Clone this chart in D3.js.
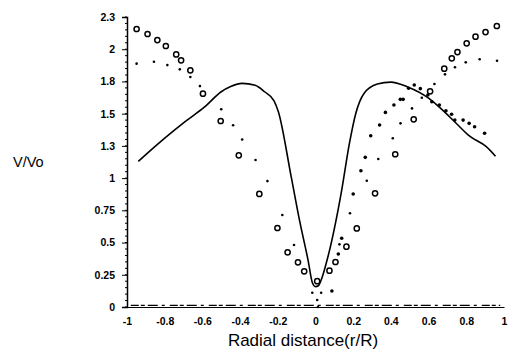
<!DOCTYPE html>
<html>
<head>
<meta charset="utf-8">
<script src="https://cdn.jsdelivr.net/npm/d3@7"></script>
<style>
  body { margin: 0; background: #fff; }
  svg { display: block; font-family: "Liberation Sans", Arial, sans-serif; }
</style>
</head>
<body>
<div id="chart"></div>
<script>
// y tick values and the (oddly rounded) labels printed on the figure
const yTicks = [0, 0.25, 0.5, 0.75, 1, 1.25, 1.5, 1.75, 2, 2.25];
const yLabels = ["0", "0.25", "0.5", "0.75", "1", "1.3", "1.5", "1.8", "2", "2.3"];
const xTicks = [-1, -0.8, -0.6, -0.4, -0.2, 0, 0.2, 0.4, 0.6, 0.8, 1];
const xLabels = ["-1", "-0.8", "-0.6", "-0.4", "-0.2", "0", "0.2", "0.4", "0.6", "0.8", "1"];

// solid curve
const lineX = [-0.94, -0.84, -0.75, -0.69, -0.59, -0.5, -0.45, -0.39, -0.32, -0.27, -0.22, -0.197, -0.129, -0.083, -0.039, -0.017, 0, 0.015, 0.03, 0.066, 0.136, 0.18, 0.214, 0.258, 0.328, 0.4, 0.486, 0.6, 0.657, 0.75, 0.818, 0.906, 0.955];
const lineY = [1.13, 1.26, 1.37, 1.44, 1.55, 1.67, 1.71, 1.735, 1.72, 1.67, 1.6, 1.515, 1.011, 0.66, 0.36, 0.19, 0.158, 0.165, 0.209, 0.39, 0.882, 1.27, 1.503, 1.658, 1.73, 1.745, 1.709, 1.62, 1.55, 1.42, 1.325, 1.244, 1.17];

// open circles
const circX = [-0.949, -0.891, -0.839, -0.794, -0.739, -0.713, -0.664, -0.597, -0.503, -0.407, -0.298, -0.202, -0.148, -0.093, -0.06, 0.009, 0.074, 0.106, 0.164, 0.219, 0.316, 0.423, 0.521, 0.608, 0.683, 0.723, 0.753, 0.802, 0.849, 0.902, 0.962];
const circY = [2.157, 2.118, 2.071, 2.025, 1.96, 1.914, 1.836, 1.655, 1.443, 1.177, 0.877, 0.613, 0.424, 0.347, 0.277, 0.2, 0.282, 0.349, 0.468, 0.61, 0.882, 1.185, 1.456, 1.673, 1.849, 1.929, 1.978, 2.046, 2.097, 2.133, 2.18];

// small dots
const dotX = [-0.949, -0.857, -0.786, -0.72, -0.664, -0.613, -0.5, -0.437, -0.389, -0.318, -0.255, -0.176, -0.114, -0.017, 0.009, 0.03, 0.013, 0.127, 0.183, 0.272, 0.333, 0.41, 0.451, 0.512, 0.564, 0.631, 0.687, 0.74, 0.797, 0.871, 0.963];
const dotY = [1.888, 1.903, 1.877, 1.844, 1.784, 1.714, 1.534, 1.41, 1.30, 1.14, 0.977, 0.714, 0.481, 0.111, 0.054, 0.111, 0.0, 0.486, 0.727, 0.98, 1.148, 1.309, 1.425, 1.541, 1.624, 1.73, 1.805, 1.86, 1.898, 1.922, 1.911];

// larger dots (right half)
const triX = [0.087, 0.121, 0.139, 0.2, 0.241, 0.264, 0.293, 0.34, 0.371, 0.416, 0.45, 0.465, 0.494, 0.524, 0.556, 0.596, 0.617, 0.657, 0.692, 0.722, 0.739, 0.783, 0.815, 0.844, 0.897];
const triY = [0.124, 0.411, 0.533, 0.877, 1.057, 1.161, 1.329, 1.412, 1.51, 1.567, 1.611, 1.611, 1.697, 1.722, 1.694, 1.645, 1.593, 1.567, 1.523, 1.495, 1.45, 1.45, 1.425, 1.399, 1.348];

// near-zero series drawn as dashes along the axis
const baseX = [-0.98, 0.98];
const baseY = [0.012, 0.012];

const W = 512, H = 358;
const margin = { top: 17, right: 4, bottom: 51, left: 127 };
const width = W - margin.left - margin.right;
const height = H - margin.top - margin.bottom;

const svg = d3.select("#chart").append("svg")
    .attr("width", W)
    .attr("height", H);

const g = svg.append("g")
    .attr("transform", `translate(${margin.left}, ${margin.top})`);

const x = d3.scaleLinear().domain([-1, 1]).range([0, width - 4]);
const y = d3.scaleLinear().domain([0, 2.25]).range([height, 0]);

// y axis with minor ticks
const minor = d3.range(0, 2.2501, 0.05);
g.append("g")
    .selectAll("line")
    .data(minor)
    .enter().append("line")
    .attr("x1", -2).attr("x2", 0)
    .attr("y1", d => y(d)).attr("y2", d => y(d))
    .attr("stroke", "#000").attr("stroke-width", 1);

const yAxis = g.append("g")
    .call(d3.axisLeft(y).tickValues(yTicks).tickSize(5).tickPadding(7)
        .tickFormat((d, i) => yLabels[i]));
yAxis.select(".domain").attr("stroke-width", 1.5);
yAxis.selectAll("text")
    .attr("font-size", "10.5px").attr("font-weight", "bold")
    .attr("font-family", "'Liberation Sans', Arial, sans-serif");

const xAxis = g.append("g")
    .attr("transform", `translate(0, ${height})`)
    .call(d3.axisBottom(x).tickValues(xTicks).tickSize(0).tickPadding(11)
        .tickFormat((d, i) => xLabels[i]));
xAxis.select(".domain").attr("stroke-width", 1.2);
xAxis.selectAll("text")
    .attr("font-size", "10.5px").attr("font-weight", "bold")
    .attr("font-family", "'Liberation Sans', Arial, sans-serif");

// baseline dashes
const baseLine = d3.line().x(d => x(d[0])).y(d => y(d[1]));
g.append("path")
    .datum(d3.zip(baseX, baseY))
    .attr("fill", "none")
    .attr("stroke", "#000")
    .attr("stroke-width", 1.2)
    .attr("stroke-dasharray", "8,2,4,3,10,4,3,5")
    .attr("d", baseLine);

// solid curve
const curve = d3.line()
    .x(d => x(d[0]))
    .y(d => y(d[1]))
    .curve(d3.curveMonotoneX);
g.append("path")
    .datum(d3.zip(lineX, lineY))
    .attr("fill", "none")
    .attr("stroke", "#000")
    .attr("stroke-width", 1.6)
    .attr("stroke-linejoin", "round")
    .attr("d", curve);

// open circles
g.append("g")
    .selectAll("circle")
    .data(d3.zip(circX, circY))
    .enter().append("circle")
    .attr("cx", d => x(d[0]))
    .attr("cy", d => y(d[1]))
    .attr("r", 2.6)
    .attr("fill", "#fff")
    .attr("stroke", "#000")
    .attr("stroke-width", 1.5);

// small dots
g.append("g")
    .selectAll("circle")
    .data(d3.zip(dotX, dotY))
    .enter().append("circle")
    .attr("cx", d => x(d[0]))
    .attr("cy", d => y(d[1]))
    .attr("r", 1.3)
    .attr("fill", "#000");

// larger dots
g.append("g")
    .selectAll("circle")
    .data(d3.zip(triX, triY))
    .enter().append("circle")
    .attr("cx", d => x(d[0]))
    .attr("cy", d => y(d[1]))
    .attr("r", 1.8)
    .attr("fill", "#000");

// axis titles
svg.append("text")
    .attr("x", 303)
    .attr("y", 346)
    .attr("text-anchor", "middle")
    .attr("font-size", "17px")
    .text("Radial distance(r/R)");

svg.append("text")
    .attr("x", 13)
    .attr("y", 167)
    .attr("font-size", "14.5px")
    .text("V/Vo");
</script>
</body>
</html>
